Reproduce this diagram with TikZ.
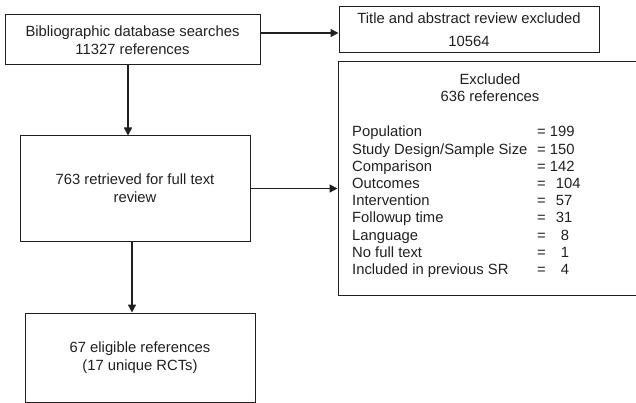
\documentclass[tikz,border=0pt]{standalone}
\usepackage{fontspec}
\setmainfont{Liberation Sans}
\usetikzlibrary{arrows.meta}
\definecolor{ink}{HTML}{231F20}
\begin{document}
\begin{tikzpicture}[x=1pt,y=-1pt,
  box/.style={draw=ink, line width=1pt, rectangle, inner sep=0pt, align=center, text=ink, font=\fontsize{14.8}{18}\selectfont},
  txt/.style={text=ink, inner sep=0pt, font=\fontsize{14.8}{17.2}\selectfont},
  arr/.style={draw=ink, line width=1.5pt, -{Triangle[length=8pt,width=8pt]}}]
\useasboundingbox (0,0) rectangle (636,403);
\clip (0,0) rectangle (636,403);
\node[box, minimum width=255pt, minimum height=50pt] (b1) at (132.5,40) {Bibliographic database searches\\11327 references};
\node[box, minimum width=260pt, minimum height=46pt, font=\fontsize{14.8}{23}\selectfont] (b2) at (469,30) {Title and abstract review excluded\\10564};
\node[box, minimum width=302pt, minimum height=233pt] (b3) at (489,178.5) {};
\node[txt, align=center] (b3h) at (490,88) {Excluded\\636 references};
\node[txt, align=left, anchor=north west] (b3l) at (352,126) {%
\makebox[185pt][l]{Population}= 199\\
\makebox[185pt][l]{Study Design/Sample Size}= 150\\
\makebox[185pt][l]{Comparison}= 142\\
\makebox[185pt][l]{Outcomes}= \hspace{6pt}104\\
\makebox[185pt][l]{Intervention}= \hspace{6pt}57\\
\makebox[185pt][l]{Followup time}= \hspace{6pt}31\\
\makebox[185pt][l]{Language}= \hspace{11pt}8\\
\makebox[185pt][l]{No full text}= \hspace{11pt}1\\
\makebox[185pt][l]{Included in previous SR}= \hspace{11pt}4};
\node[box, minimum width=230pt, minimum height=105pt] (b4) at (135,188.5) {763 retrieved for full text\\review};
\node[box, minimum width=230pt, minimum height=89pt] (b5) at (140,357.5) {67 eligible references\\ (17 unique RCTs)};
\draw[arr] ([yshift=7pt]b1.east) -- ([yshift=7pt]b1.east -| b2.west);
\draw[arr] ([xshift=-4.5pt]b1.south) -- ([xshift=-4.5pt]b1.south |- b4.north);
\draw[arr] (b4.east) -- (b4.east -| b3.west);
\draw[arr] ([xshift=-3pt]b4.south) -- ([xshift=-3pt]b4.south |- b5.north);
\end{tikzpicture}
\end{document}
